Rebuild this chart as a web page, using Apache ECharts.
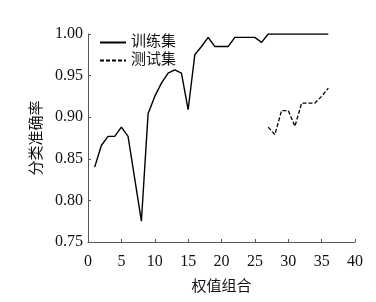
<!DOCTYPE html>
<html><head><meta charset="utf-8">
<script src="https://cdn.jsdelivr.net/npm/echarts@6/dist/echarts.min.js"></script>
<style>html,body{margin:0;padding:0;background:#fff}#c{width:376px;height:302px}</style>
</head><body><div id="c"></div>
<script>
const trainX = [1,2,3,4,5,6,8,9,10,11,12,13,14,15,16,17,18,19,20,21,22,23,24,25,26,27,28,29,30,31,32,33,34,35,36];
const trainY = [0.840,0.866,0.877,0.877,0.888,0.877,0.775,0.904,0.925,0.941,0.953,0.957,0.953,0.909,0.975,0.985,0.996,0.985,0.985,0.985,0.996,0.996,0.996,0.996,0.990,1.0,1.0,1.0,1.0,1.0,1.0,1.0,1.0,1.0,1.0];
const testX = [27,28,29,30,31,32,33,34,35,36];
const testY = [0.888,0.879,0.908,0.908,0.889,0.917,0.917,0.917,0.925,0.935];
const seriesNames = ['训练集','测试集'];
const xName = '权值组合';
const yName = '分类准确率';

const font = "'Liberation Serif','Noto Sans CJK SC',serif";
const chart = echarts.init(document.getElementById('c'));
chart.setOption({
  animation: false,
  grid: {left: 88, right: 21, top: 34, bottom: 60},
  legend: {
    orient: 'vertical', left: 94, top: 30, itemGap: 3, itemWidth: 26, itemHeight: 12,
    itemStyle: {opacity: 0},
    textStyle: {fontFamily: font, fontSize: 15, color: '#111'},
    data: seriesNames
  },
  xAxis: {
    type: 'value', min: 0, max: 40, interval: 5,
    name: xName, nameLocation: 'middle', nameGap: 38,
    nameTextStyle: {fontFamily: font, fontSize: 15, color: '#111'},
    axisLine: {lineStyle: {color: '#555', width: 1}},
    axisTick: {inside: true, length: 3, lineStyle: {color: '#555'}},
    axisLabel: {fontFamily: font, fontSize: 16, color: '#111', margin: 12},
    splitLine: {show: false}
  },
  yAxis: {
    type: 'value', min: 0.75, max: 1.0, interval: 0.05,
    name: yName, nameLocation: 'middle', nameGap: 40, nameRotate: 90,
    nameTextStyle: {fontFamily: font, fontSize: 15, color: '#111'},
    axisLine: {show: true, lineStyle: {color: '#555', width: 1}},
    axisTick: {show: true, inside: true, length: 3, lineStyle: {color: '#555'}},
    axisLabel: {fontFamily: font, fontSize: 16, color: '#111', margin: 5,
      formatter: v => v.toFixed(2)},
    splitLine: {show: false}
  },
  series: [
    {name: seriesNames[0], type: 'line', symbol: 'none', data: trainX.map((x,i)=>[x,trainY[i]]),
     lineStyle: {color: '#000', width: 1.4}, itemStyle: {color: '#000'}},
    {name: seriesNames[1], type: 'line', symbol: 'none', data: testX.map((x,i)=>[x,testY[i]]),
     lineStyle: {color: '#000', width: 1.3, type: [4,2]}, itemStyle: {color: '#000'}}
  ]
});
</script></body></html>
